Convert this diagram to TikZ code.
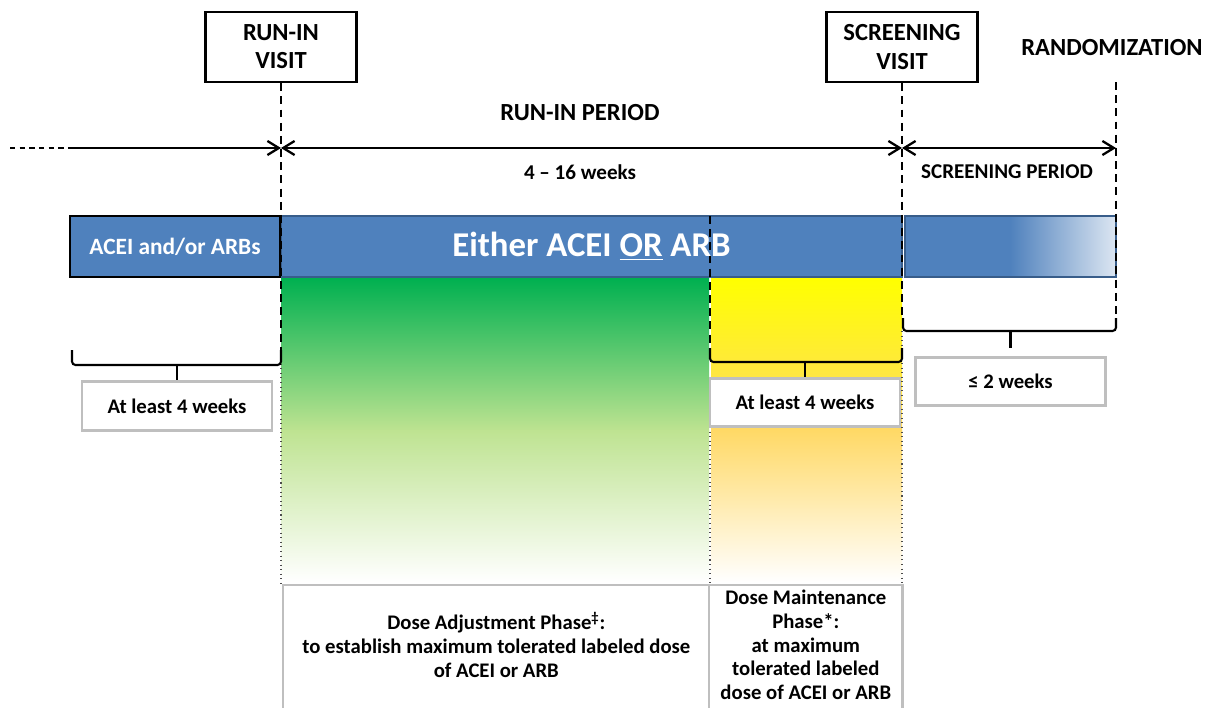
\documentclass[tikz,border=0pt]{standalone}
\usepackage{fontspec}
\setmainfont{Carlito}
\usetikzlibrary{positioning,arrows.meta,calc}
\usepackage{xcolor}
\definecolor{barblue}{RGB}{79,129,189}
\definecolor{bardark}{RGB}{56,93,138}
\definecolor{barlight}{RGB}{220,230,242}
\definecolor{boxgray}{RGB}{191,191,191}
\definecolor{adjgreen}{RGB}{0,176,80}
\definecolor{adjmid}{RGB}{190,227,145}
\definecolor{maintgold}{RGB}{255,217,102}

\begin{document}
\begin{tikzpicture}[x=0.02cm, y=-0.02cm,
  >={Straight Barb[length=6.5pt,width=8pt]},
  visit/.style={draw, line width=1.4pt, fill=white, minimum width=3.02cm, minimum height=1.4cm, align=center, font=\fontsize{14}{16}\selectfont\bfseries},
  hd/.style={font=\fontsize{14}{16}\selectfont\bfseries},
  sm/.style={font=\fontsize{12}{14}\selectfont\bfseries},
  bar/.style={fill=barblue, line width=1.5pt, minimum height=1.22cm, text=white, inner sep=0pt},
  wk/.style={draw=boxgray, line width=1.5pt, fill=white, minimum width=3.8cm, minimum height=0.97cm, font=\fontsize{11.8}{14}\selectfont\bfseries},
  phase/.style={align=center, inner sep=0.5pt, minimum height=2.38cm, anchor=north west, font=\fontsize{11.8}{13.6}\selectfont\bfseries},
  frame/.style={draw=boxgray, line width=1.5pt},
  vline/.style={line width=1pt, dash pattern=on 4.5pt off 3pt},
  edge/.style={black!70, line width=0.6pt, dotted},
  tl/.style={line width=1.3pt},
  brc/.style={line width=1.2pt, rounded corners=2pt}
]
  \useasboundingbox (0,0) rectangle (1211,707);

  % phase colours
  \shade[top color=adjgreen, bottom color=adjmid] (281,278) rectangle (709,431);
  \shade[top color=adjmid, bottom color=white] (281,430) rectangle (709,582);
  \shade[top color=yellow, bottom color=maintgold] (711,278) rectangle (902,431);
  \shade[top color=maintgold, bottom color=white] (711,430) rectangle (902,582);

  % visits
  \node[visit] (runv) at (281,47) {RUN-IN\\VISIT};
  \node[visit] (scrv) at (902,47) {SCREENING\\VISIT};
  \node[hd] (rand) at (1112,48) {RANDOMIZATION};
  \coordinate (randtop) at (1116,82);

  % time line
  \coordinate (t0) at (10,148);
  \coordinate (t1) at (70,148);
  \coordinate (ta) at (runv.south |- t0);
  \coordinate (tb) at (scrv.south |- t0);
  \coordinate (tc) at (randtop |- t0);
  \draw[tl, dash pattern=on 3pt off 2.5pt] (t0) -- (t1);
  \draw[tl, ->] (t1) -- (ta);
  \draw[tl, <->] (ta) -- (tb);
  \draw[tl, <->] (tb) -- (tc);
  \node[hd] (runp) at (580,113) {RUN-IN PERIOD};
  \node[sm] (dur) at (580,172) {4 -- 16 weeks};
  \node[sm] (scrp) at (1007,172) {SCREENING PERIOD};

  % treatment bars
  \node[bar, draw=bardark, minimum width=12.42cm, font=\fontsize{19.8}{23}\selectfont\bfseries] (either) at (591.5,246.5) {Either ACEI \underline{OR} ARB};
  \node[bar, draw=black, minimum width=4.2cm, font=\fontsize{13.3}{15.5}\selectfont\bfseries] (prior) at (175,246.5) {ACEI and/or ARBs};
  \fill[barblue] (905,216) rectangle (1010,277);
  \shade[left color=barblue, right color=barlight] (1010,216) rectangle (1116,277);
  \draw[bardark, line width=1.5pt] (905,216) rectangle (1116,277);

  % guide lines
  \draw[vline] (runv.south) -- ++(0,268);
  \draw[vline] (scrv.south) -- ++(0,236);
  \draw[vline] (randtop) -- (1116,318);
  \draw[vline] (710,216) -- (710,350);
  \draw[edge] (281,350) -- (281,585);
  \draw[edge] (710,427) -- (710,585);
  \draw[edge] (902,331) -- (902,585);

  % durations
  \node[wk] (wk1) at (177,406) {At least 4 weeks};
  \node[wk] (wk2) at (805,402.5) {At least 4 weeks};
  \node[wk] (wk3) at (1010.5,381.5) {≤ 2 weeks};
  \draw[brc] (72,350) -- (72,365) -- (281,365) -- (281,350);
  \draw[brc] (wk1.north |- 0,365) -- (wk1.north);
  \draw[brc] (710,348) -- (710,362) -- (902,362) -- (902,348);
  \draw[brc] (wk2.north |- 0,362) -- (wk2.north);
  \draw[brc] (903,318) -- (903,331) -- (1116,331) -- (1116,318);
  \draw[brc] (wk3.north |- 0,331) -- ++(0,17);

  % phases
  \node[phase, minimum width=8.52cm] (adj) at (283,585) {Dose Adjustment Phase\textsuperscript{‡}:\\to establish maximum tolerated labeled dose\\of ACEI or ARB};
  \node[phase, minimum width=3.86cm] (maint) at (709,585) {Dose Maintenance\\Phase*:\\at maximum\\tolerated labeled\\dose of ACEI or ARB};
  \draw[frame] (adj.north west |- 0,715) -- (adj.north west) -- (maint.north east) -- (maint.north east |- 0,715);
  \draw[frame] (maint.north west) -- (maint.north west |- 0,715);
\end{tikzpicture}
\end{document}
